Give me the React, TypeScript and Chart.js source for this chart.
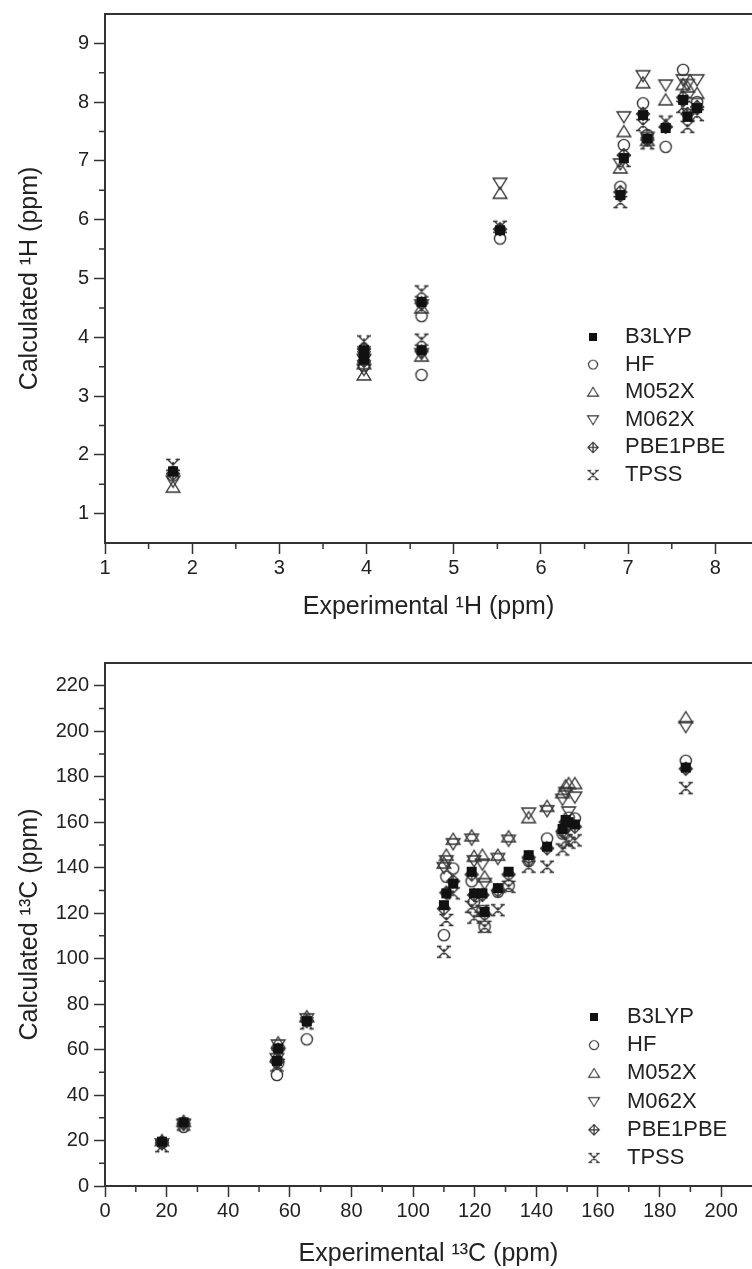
import React, { useEffect, useRef } from 'react';
import { Chart, registerables } from 'chart.js';

Chart.register(...registerables);

const FONT = '"Liberation Sans", Arial, Helvetica, sans-serif';

const SERIES = ['B3LYP', 'HF', 'M052X', 'M062X', 'PBE1PBE', 'TPSS'];
const MARKERS = ['square', 'circle', 'up', 'down', 'diamond', 'tpss'];

// ---- 1H data ----
const H_EXP = [1.78, 3.97, 3.97, 4.63, 4.63, 5.53, 6.91, 6.95, 7.17, 7.22, 7.43, 7.63, 7.68, 7.79];
const H_B3LYP = [1.72, 3.62, 3.78, 4.60, 3.78, 5.82, 6.42, 7.05, 7.78, 7.38, 7.56, 8.04, 7.75, 7.90];
const H_HF = [1.65, 3.52, 3.70, 4.36, 3.36, 5.68, 6.56, 7.27, 7.98, 7.44, 7.24, 8.55, 7.92, 8.00];
const H_M052X = [1.45, 3.36, 3.55, 4.50, 3.68, 6.45, 6.88, 7.50, 8.33, 7.35, 8.04, 8.30, 8.26, 8.15];
const H_M062X = [1.55, 3.45, 3.62, 4.55, 3.72, 6.62, 6.95, 7.75, 8.45, 7.40, 8.29, 8.38, 8.30, 8.38];
const H_PBE1PBE = [1.68, 3.60, 3.80, 4.58, 3.76, 5.84, 6.47, 7.10, 7.80, 7.36, 7.58, 8.08, 7.80, 7.92];
const H_TPSS = [1.83, 3.66, 3.93, 4.78, 3.96, 5.88, 6.30, 7.00, 7.61, 7.30, 7.67, 7.92, 7.58, 7.78];

// ---- 13C data ----
const C_EXP = [18.5, 25.5, 55.8, 56.2, 65.5, 110.0, 110.8, 113.0, 119.0, 119.8, 122.5, 123.2, 127.5, 131.0, 137.5, 143.5, 148.5, 149.5, 150.5, 152.5, 188.5];
const C_B3LYP = [19.5, 28.0, 55.0, 60.5, 72.5, 123.5, 128.7, 133.0, 138.2, 128.7, 128.7, 120.6, 131.0, 138.2, 145.5, 149.2, 157.0, 161.0, 160.0, 159.0, 184.0];
const C_HF = [19.0, 26.0, 48.8, 54.0, 64.5, 110.3, 136.0, 139.6, 134.0, 125.0, 121.0, 114.0, 129.4, 132.0, 143.0, 152.8, 155.0, 158.0, 162.0, 161.6, 187.0];
const C_M052X = [20.0, 28.5, 57.0, 63.0, 74.5, 142.0, 145.5, 152.5, 154.0, 145.0, 145.5, 136.0, 145.5, 153.6, 162.0, 167.0, 173.0, 176.0, 177.0, 177.0, 206.0];
const C_M062X = [18.5, 27.0, 56.0, 62.0, 73.5, 140.0, 143.0, 150.5, 152.5, 143.0, 141.5, 133.0, 144.0, 152.0, 164.0, 165.0, 170.0, 173.0, 164.5, 171.0, 202.0];
const C_PBE1PBE = [19.0, 27.5, 54.5, 60.0, 72.5, 122.0, 129.0, 134.0, 137.0, 128.0, 128.0, 119.5, 130.0, 137.0, 144.5, 148.5, 156.0, 160.0, 159.0, 158.0, 183.5];
const C_TPSS = [17.5, 27.0, 53.0, 58.0, 71.5, 103.0, 117.0, 128.7, 122.8, 118.0, 121.0, 114.0, 121.3, 131.6, 140.4, 140.4, 148.0, 152.0, 151.0, 152.0, 175.0];

// ---- ticks ----
const H_X_TICKS = [1, 2, 3, 4, 5, 6, 7, 8];
const H_X_MINOR = [1.5, 2.5, 3.5, 4.5, 5.5, 6.5, 7.5];
const H_Y_TICKS = [1, 2, 3, 4, 5, 6, 7, 8, 9];
const H_Y_MINOR = [1.5, 2.5, 3.5, 4.5, 5.5, 6.5, 7.5, 8.5];
const C_X_TICKS = [0, 20, 40, 60, 80, 100, 120, 140, 160, 180, 200];
const C_X_MINOR = [10, 30, 50, 70, 90, 110, 130, 150, 170, 190];
const C_Y_TICKS = [0, 20, 40, 60, 80, 100, 120, 140, 160, 180, 200, 220];
const C_Y_MINOR = [10, 30, 50, 70, 90, 110, 130, 150, 170, 190, 210];

function makeMarker(kind: string): HTMLCanvasElement {
  const s = 18;
  const c = document.createElement('canvas');
  c.width = s;
  c.height = s;
  const g = c.getContext('2d') as CanvasRenderingContext2D;
  const m = s / 2;
  g.strokeStyle = '#333';
  g.fillStyle = '#111';
  g.lineWidth = 1.4;
  g.beginPath();
  switch (kind) {
    case 'square':
      g.fillRect(m - 5, m - 5, 10, 10);
      break;
    case 'circle':
      g.arc(m, m, 5.6, 0, Math.PI * 2);
      g.stroke();
      break;
    case 'up':
      g.moveTo(m, m - 6);
      g.lineTo(m + 6.8, m + 5);
      g.lineTo(m - 6.8, m + 5);
      g.closePath();
      g.stroke();
      break;
    case 'down':
      g.moveTo(m, m + 6);
      g.lineTo(m + 6.8, m - 5);
      g.lineTo(m - 6.8, m - 5);
      g.closePath();
      g.stroke();
      break;
    case 'diamond':
      g.moveTo(m, m - 6.5);
      g.lineTo(m + 6.5, m);
      g.lineTo(m, m + 6.5);
      g.lineTo(m - 6.5, m);
      g.closePath();
      g.moveTo(m, m - 6.5);
      g.lineTo(m, m + 6.5);
      g.moveTo(m - 6.5, m);
      g.lineTo(m + 6.5, m);
      g.stroke();
      break;
    case 'tpss':
      g.moveTo(m - 5.5, m - 5.5);
      g.lineTo(m + 5.5, m + 5.5);
      g.moveTo(m + 5.5, m - 5.5);
      g.lineTo(m - 5.5, m + 5.5);
      g.moveTo(m - 7, m - 5.5);
      g.lineTo(m - 2.5, m - 5.5);
      g.moveTo(m + 2.5, m - 5.5);
      g.lineTo(m + 7, m - 5.5);
      g.moveTo(m - 7, m + 5.5);
      g.lineTo(m - 2.5, m + 5.5);
      g.moveTo(m + 2.5, m + 5.5);
      g.lineTo(m + 7, m + 5.5);
      g.moveTo(m, m - 3);
      g.lineTo(m, m + 3);
      g.stroke();
      break;
  }
  return c;
}

const framePlugin = {
  id: 'frameMinor',
  afterDraw(chart: any, _args: any, opts: any) {
    const { ctx, chartArea: a, scales } = chart;
    ctx.save();
    ctx.strokeStyle = '#333';
    ctx.lineWidth = 2;
    ctx.beginPath();
    ctx.moveTo(a.left - 1, a.top);
    ctx.lineTo(a.right, a.top);
    ctx.stroke();
    ctx.lineWidth = 1.5;
    ctx.beginPath();
    (opts.xMinor || []).forEach((v: number) => {
      const px = scales.x.getPixelForValue(v);
      ctx.moveTo(px, a.bottom);
      ctx.lineTo(px, a.bottom + 6);
    });
    (opts.yMinor || []).forEach((v: number) => {
      const py = scales.y.getPixelForValue(v);
      ctx.moveTo(a.left, py);
      ctx.lineTo(a.left - 6, py);
    });
    ctx.stroke();
    ctx.restore();
  },
};

const legendPlugin = {
  id: 'insideLegend',
  afterDraw(chart: any, _args: any, opts: any) {
    const { ctx, chartArea: a } = chart;
    const n = chart.data.datasets.length;
    ctx.save();
    ctx.font = `${opts.fontSize}px ${FONT}`;
    ctx.fillStyle = '#222';
    ctx.textBaseline = 'middle';
    ctx.textAlign = 'left';
    chart.data.datasets.forEach((ds: any, i: number) => {
      const y = a.bottom - opts.bottomOffset - (n - 1 - i) * opts.rowGap;
      const img = ds.pointStyle as HTMLCanvasElement;
      const w = img.width * opts.markerScale;
      const h = img.height * opts.markerScale;
      ctx.drawImage(img, opts.markerX - w / 2, y - h / 2, w, h);
      ctx.fillText(ds.label, opts.textX, y);
    });
    ctx.restore();
  },
};

function buildOptions(cfg: any) {
  const tickFont = { size: 20, family: FONT };
  const titleFont = { size: 25, family: FONT };
  return {
    animation: false,
    responsive: false,
    events: [],
    layout: { autoPadding: false, padding: { top: cfg.top, left: 0, right: 0, bottom: 0 } },
    plugins: {
      legend: { display: false },
      tooltip: { enabled: false },
      frameMinor: { xMinor: cfg.xMinor, yMinor: cfg.yMinor },
      insideLegend: cfg.legend,
    },
    scales: {
      x: {
        type: 'linear',
        min: cfg.xMin,
        max: cfg.xMax,
        afterBuildTicks: (s: any) => {
          s.ticks = cfg.xTicks.map((v: number) => ({ value: v }));
        },
        afterFit: (s: any) => {
          s.height = cfg.xHeight;
          s.paddingLeft = 0;
          s.paddingRight = 0;
        },
        grid: { display: true, drawOnChartArea: false, drawTicks: true, tickLength: 11, tickColor: '#333', tickWidth: 1.5 },
        border: { display: true, color: '#333', width: 2 },
        ticks: { font: tickFont, color: '#222', padding: 2, maxRotation: 0, autoSkip: false, callback: (v: any) => `${v}` },
        title: { display: true, text: cfg.xTitle, font: titleFont, color: '#222', padding: { top: 0, bottom: cfg.xTitlePad } },
      },
      y: {
        type: 'linear',
        min: cfg.yMin,
        max: cfg.yMax,
        afterBuildTicks: (s: any) => {
          s.ticks = cfg.yTicks.map((v: number) => ({ value: v }));
        },
        afterFit: (s: any) => {
          s.width = 105;
          s.paddingTop = 0;
          s.paddingBottom = 0;
        },
        grid: { display: true, drawOnChartArea: false, drawTicks: true, tickLength: 11, tickColor: '#333', tickWidth: 1.5 },
        border: { display: true, color: '#333', width: 2 },
        ticks: { font: tickFont, color: '#222', padding: 5, autoSkip: false, callback: (v: any) => `${v}` },
        title: { display: true, text: cfg.yTitle, font: titleFont, color: '#222', padding: { top: 15, bottom: 0 } },
      },
    },
  };
}

function makeDatasets(xs: number[], ys: number[][]) {
  return SERIES.map((label, i) => ({
    label,
    data: xs.map((x, j) => ({ x, y: ys[i][j] })),
    pointStyle: makeMarker(MARKERS[i]),
    pointRadius: 6,
    showLine: false,
  }));
}

function ScatterPanel(props: { width: number; height: number; cfg: any; xs: number[]; ys: number[][] }) {
  const ref = useRef<HTMLCanvasElement | null>(null);
  useEffect(() => {
    if (!ref.current) return;
    const chart = new Chart(ref.current, {
      type: 'scatter',
      data: { datasets: makeDatasets(props.xs, props.ys) as any },
      options: buildOptions(props.cfg) as any,
      plugins: [framePlugin, legendPlugin],
    });
    return () => chart.destroy();
  }, []);
  return <canvas ref={ref} width={props.width} height={props.height} style={{ display: 'block' }} />;
}

export default function App() {
  const hCfg = {
    top: 14,
    xMin: 1,
    xMax: 8.42,
    yMin: 0.5,
    yMax: 9.5,
    xTicks: H_X_TICKS,
    yTicks: H_Y_TICKS,
    xMinor: H_X_MINOR,
    yMinor: H_Y_MINOR,
    xHeight: 97,
    xTitle: 'Experimental \u00b9H (ppm)',
    yTitle: 'Calculated \u00b9H (ppm)',
    xTitlePad: 18,
    legend: { fontSize: 22, markerX: 593, textX: 625, bottomOffset: 68, rowGap: 27.6, markerScale: 0.8 },
  };
  const cCfg = {
    top: 23,
    xMin: 0,
    xMax: 210,
    yMin: 0,
    yMax: 230,
    xTicks: C_X_TICKS,
    yTicks: C_Y_TICKS,
    xMinor: C_X_MINOR,
    yMinor: C_Y_MINOR,
    xHeight: 83,
    xTitle: 'Experimental \u00b9\u00b3C (ppm)',
    yTitle: 'Calculated \u00b9\u00b3C (ppm)',
    xTitlePad: 0,
    legend: { fontSize: 22, markerX: 594, textX: 627, bottomOffset: 28, rowGap: 28.2, markerScale: 0.8 },
  };
  const hYs = [H_B3LYP, H_HF, H_M052X, H_M062X, H_PBE1PBE, H_TPSS];
  const cYs = [C_B3LYP, C_HF, C_M052X, C_M062X, C_PBE1PBE, C_TPSS];
  return (
    <div style={{ position: 'absolute', left: 0, top: 0, width: 752, height: 1269, background: '#fff', overflow: 'hidden' }}>
      <ScatterPanel width={752} height={640} cfg={hCfg} xs={H_EXP} ys={hYs} />
      <ScatterPanel width={752} height={629} cfg={cCfg} xs={C_EXP} ys={cYs} />
    </div>
  );
}
